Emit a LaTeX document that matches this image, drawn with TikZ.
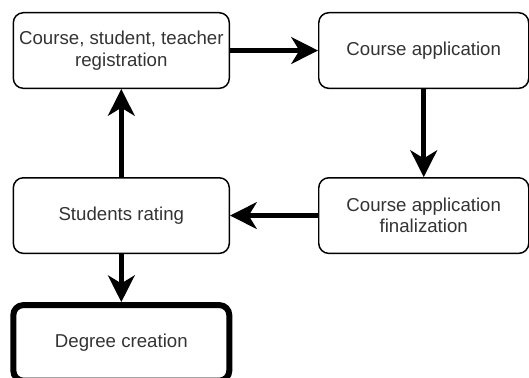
\documentclass[tikz,border=0pt]{standalone}
\usepackage{fontspec}
\setmainfont{Liberation Sans}
\usetikzlibrary{arrows.meta, positioning}

\begin{document}
\begin{tikzpicture}[
            > = {Stealth[length=20pt, width=20pt, inset=6pt]}, % arrow head style
            node distance = 66pt, % gap between boxes
            line width = 3.4pt % connector line style
        ]

        \tikzstyle{block}=[
            draw = black,
            line width = 1.1pt,
            rounded corners = 7.5pt,
            fill = white,
            text = black!80,
            align = center,
            inner sep = 2pt,
            minimum width = 162pt,
            minimum height = 56.7pt,
            font = \fontsize{14}{16}\selectfont
        ]

	\useasboundingbox (-91pt,37.9pt) rectangle (305.8pt,-245.6pt);

	\node[block] (1) {Course, student, teacher\\registration};
	\node[block, minimum width = 157.5pt] (2) [right=of 1] {Course application};
	\node[block, minimum width = 157.5pt] (4) [below=of 2] {Course application\\finalization};
	\node[block] (3) [below=of 1] {Students rating};
	\node[block, line width = 4.5pt] (5) [below=36pt of 3] {Degree creation};

        \path[->] (1) edge (2);
        \path[->] (2) edge (4);
        \path[->] (4) edge (3);
        \path[->] (3) edge (1);
        \path[->] (3) edge (5);

    \end{tikzpicture}
\end{document}
